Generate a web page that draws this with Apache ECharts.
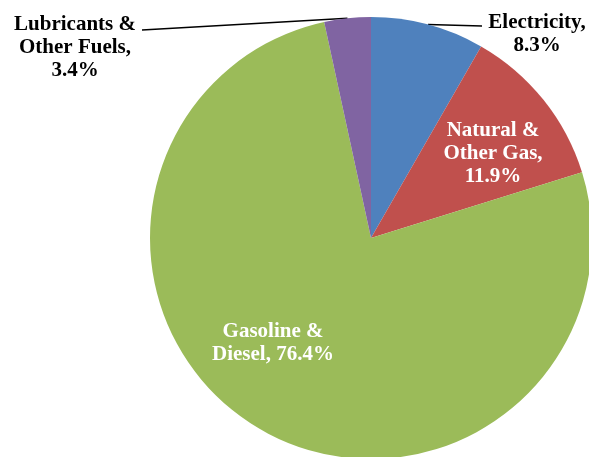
<!DOCTYPE html>
<html>
<head>
<meta charset="utf-8">
<script src="https://cdn.jsdelivr.net/npm/echarts@6/dist/echarts.min.js"></script>
<style>html,body{margin:0;padding:0;background:#fff}#c{width:589px;height:457px}</style>
</head>
<body>
<div id="c"></div>
<script>
const categories = ['Electricity', 'Natural & Other Gas', 'Gasoline & Diesel', 'Lubricants & Other Fuels'];
const values = [8.3, 11.9, 76.4, 3.4];
const labelTexts = ['Electricity,\n8.3%', 'Natural &\nOther Gas,\n11.9%', 'Gasoline &\nDiesel, 76.4%', 'Lubricants &\nOther Fuels,\n3.4%'];
const colors = ['#4F81BD', '#C0504D', '#9BBB59', '#8064A2'];
const insideFlags = [false, true, true, false];
const labelSpots = [[537, 34], [493, 154], [273, 343], [75, 48]];
const lineEndOffsets = [[-55, -8], null, null, [67, -18]];

const chart = echarts.init(document.getElementById('c'), null, {renderer: 'canvas'});
const data = categories.map((n, i) => ({
  name: n,
  value: values[i],
  itemStyle: {color: colors[i]},
  label: {
    position: insideFlags[i] ? 'inside' : 'outside',
    color: insideFlags[i] ? '#fff' : '#000',
    formatter: labelTexts[i]
  },
  labelLine: {show: !insideFlags[i]}
}));
chart.setOption({
  animation: false,
  series: [{
    type: 'pie',
    center: [371, 238],
    radius: 221,
    startAngle: 90,
    clockwise: true,
    avoidLabelOverlap: false,
    itemStyle: {borderWidth: 0},
    emphasis: {disabled: true},
    label: {
      fontFamily: '"Liberation Serif", "Times New Roman", serif',
      fontWeight: 'bold',
      fontSize: 21,
      lineHeight: 23,
      align: 'center'
    },
    labelLine: {
      length: 0,
      length2: 40,
      lineStyle: {color: '#000', width: 1.5}
    },
    labelLayout: function (p) {
      const i = p.dataIndex;
      const s = labelSpots[i];
      const res = {x: s[0], y: s[1], align: 'center', verticalAlign: 'middle'};
      const off = lineEndOffsets[i];
      if (off && p.labelLinePoints && p.labelLinePoints.length) {
        const start = p.labelLinePoints[0];
        res.labelLinePoints = [start, [s[0] + off[0], s[1] + off[1]]];
      }
      return res;
    },
    data: data
  }]
});
</script>
</body>
</html>
